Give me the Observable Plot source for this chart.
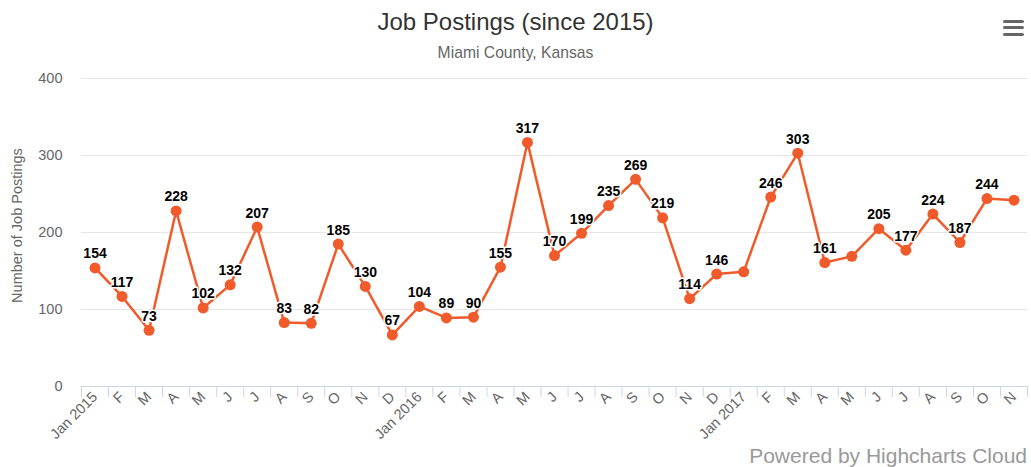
<!DOCTYPE html>
<html><head><meta charset="utf-8">
<script src="https://cdn.jsdelivr.net/npm/d3@7"></script>
<script src="https://cdn.jsdelivr.net/npm/@observablehq/plot@0.6"></script>
<style>
body{margin:0;background:#fff;font-family:"Liberation Sans",Arial,Helvetica,sans-serif;}
#wrap{position:relative;width:1031px;height:467px;overflow:hidden;background:#fff;}
#title{position:absolute;top:8px;left:0;width:1031px;text-align:center;font-size:24px;line-height:28px;color:#333;}
#subtitle{position:absolute;top:43px;left:0;width:1031px;text-align:center;font-size:15.7px;line-height:20px;color:#666;}
#chart{position:absolute;top:65px;left:0;}
#credits{position:absolute;right:4px;top:444px;font-size:21px;line-height:24px;color:#999;}
.bar{position:absolute;left:1003px;width:21px;height:3.4px;background:#666;border-radius:1.5px;}
</style>
</head><body>
<div id="wrap">
  <div id="title">Job Postings (since 2015)</div>
  <div id="subtitle">Miami County, Kansas</div>
  <div id="chart"></div>
  <div id="credits">Powered by Highcharts Cloud</div>
  <div class="bar" style="top:19.5px"></div>
  <div class="bar" style="top:26px"></div>
  <div class="bar" style="top:32.5px"></div>
</div>
<script>
const months = ["Jan 2015","F","M","A","M","J","J","A","S","O","N","D",
  "Jan 2016","F","M","A","M","J","J","A","S","O","N","D",
  "Jan 2017","F","M","A","M","J","J","A","S","O","N"];
const postings = [154,117,73,228,102,132,207,83,82,185,130,67,
  104,89,90,155,317,170,199,235,269,219,114,146,
  149,246,303,161,169,205,177,224,187,244,242];
const hiddenLabelIndices = [24, 28, 34];
const yTicks = [0, 100, 200, 300, 400];
const yTitle = "Number of Job Postings";

const color = "#f15a2b";
const data = months.map((m, i) => ({i, month: m, value: postings[i]}));
const labelled = data.filter(d => !hiddenLabelIndices.includes(d.i));
const centers = d3.range(months.length);
const boundaries = d3.range(months.length + 1).map(k => k - 0.5);

const chart = Plot.plot({
  width: 1031,
  height: 402,
  marginTop: 13,
  marginBottom: 81,
  marginLeft: 81,
  marginRight: 4,
  style: {fontFamily: '"Liberation Sans", Arial, Helvetica, sans-serif', fontSize: "14.5px", background: "transparent", color: "#666"},
  x: {type: "linear", domain: [-0.5, months.length - 0.5]},
  y: {domain: [0, 400]},
  marks: [
    Plot.gridY(yTicks, {stroke: "#e6e6e6", strokeOpacity: 1, strokeWidth: 1}),
    Plot.axisY(yTicks, {tickSize: 0, tickPadding: 19, label: null, fill: "#666", fontSize: 14.5}),
    Plot.text([yTitle], {frameAnchor: "left", textAnchor: "middle", dx: -64, dy: -7, rotate: -90, fontSize: 14.5, fill: "#666"}),
    Plot.ruleY([0], {stroke: "#ccd6eb", strokeWidth: 1}),
    Plot.axisX(boundaries, {tickSize: 11, stroke: "#ccd6eb", strokeOpacity: 1, tickFormat: () => "", label: null}),
    Plot.axisX(centers, {tickSize: 0, tickPadding: 8, tickFormat: i => months[i], tickRotate: -45, textAnchor: "end", fill: "#666", fontSize: 14.5, label: null}),
    Plot.line(data, {x: "i", y: "value", stroke: color, strokeWidth: 2.5}),
    Plot.dot(data, {x: "i", y: "value", r: 5.5, fill: color, stroke: "none"}),
    Plot.text(labelled, {x: "i", y: "value", text: d => String(d.value), dy: -14, fontWeight: "bold", fontSize: 14, fill: "#000", stroke: "#fff", strokeWidth: 3, paintOrder: "stroke"})
  ]
});
document.getElementById("chart").appendChild(chart);
</script>
</body></html>
